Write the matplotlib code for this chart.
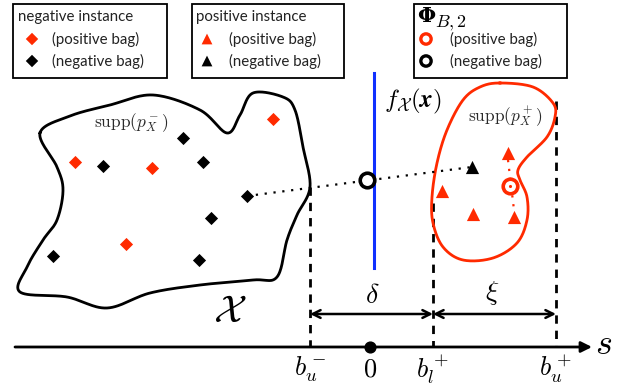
import numpy as np
import matplotlib
matplotlib.use("Agg")
import matplotlib.pyplot as plt
from matplotlib.patches import Rectangle

plt.rcParams['mathtext.fontset'] = 'cm'
plt.rcParams['font.family'] = ['Lato', 'DejaVu Sans']

RED = '#ff2a00'
BLUE = '#1030ff'

# ---- data (diagram coordinates) ----
neg_inst_pos_bag_x = [273, 75, 152, 126]
neg_inst_pos_bag_y = [119, 162, 168, 244]
neg_inst_neg_bag_x = [183, 103, 203, 247, 211, 53, 199]
neg_inst_neg_bag_y = [138, 166, 162, 196, 218, 256, 260]
pos_inst_pos_bag_x = [442, 473, 508, 514]
pos_inst_pos_bag_y = [191, 214, 153, 217]
pos_inst_neg_bag_x = [472]
pos_inst_neg_bag_y = [167]
phi_pos_bag = (510, 186)
phi_neg_bag = (367, 180)

neg_region_x = [40, 70, 110, 153, 200, 227, 240, 253, 283, 295, 303, 310, 297, 287, 277, 253, 200, 150, 107, 67, 20, 27, 43, 57, 63, 57]
neg_region_y = [133, 116, 105, 95, 110, 133, 115, 93, 97, 110, 147, 187, 215, 240, 277, 280, 285, 293, 308, 297, 292, 267, 240, 220, 190, 167]
pos_region_x = [500, 533, 553, 555, 547, 527, 518, 520, 527, 527, 517, 493, 463, 443, 433, 432, 437, 447, 463, 480]
pos_region_y = [83, 87, 103, 117, 137, 157, 170, 180, 197, 220, 243, 258, 260, 247, 223, 197, 163, 130, 100, 87]

tick_pos = [310, 370, 433, 556]
tick_labels = [r'$b_u^-$', r'$0$', r'$b_l^+$', r'$b_u^+$']
dash_top = [187, None, 203, 101]


def closed_spline(xs, ys, n=30):
    P = np.column_stack([xs, ys]).astype(float)
    m = len(P)
    out = []
    for i in range(m):
        p0, p1, p2, p3 = P[(i - 1) % m], P[i], P[(i + 1) % m], P[(i + 2) % m]
        t = np.linspace(0, 1, n, endpoint=False)[:, None]
        seg = 0.5 * ((2 * p1) + (-p0 + p2) * t + (2 * p0 - 5 * p1 + 4 * p2 - p3) * t ** 2
                     + (-p0 + 3 * p1 - 3 * p2 + p3) * t ** 3)
        out.append(seg)
    out = np.vstack(out)
    out = np.vstack([out, out[:1]])
    return out[:, 0], out[:, 1]


fig = plt.figure(figsize=(6.28, 3.87), dpi=100)
ax = fig.add_axes([0, 0, 1, 1])
ax.set_xlim(0, 628)
ax.set_ylim(387, 0)
ax.axis('off')

# regions
sx, sy = closed_spline(neg_region_x, neg_region_y)
ax.plot(sx, sy, color='black', lw=2.0, zorder=2)
sx, sy = closed_spline(pos_region_x, pos_region_y)
ax.plot(sx, sy, color=RED, lw=2.0, zorder=2)

ax.text(131, 123, r'$\mathrm{supp}(p_X^-)$', fontsize=12.5, color='#2a2a2a', ha='center', va='center')
ax.text(505, 117, r'$\mathrm{supp}(p_X^+)$', fontsize=12.5, color='#2a2a2a', ha='center', va='center')

# blue classifier line
ax.plot([374, 374], [73, 268], color=BLUE, lw=2.2, zorder=2)
ax.text(384, 101, r'$f_{\mathcal{X}}(\boldsymbol{x})$', fontsize=18, ha='left', va='center')

# dotted lines
ax.plot([neg_inst_neg_bag_x[3], pos_inst_neg_bag_x[0]], [neg_inst_neg_bag_y[3], pos_inst_neg_bag_y[0]],
        color='black', lw=1.6, ls=(0, (1, 3)), zorder=3)
ax.plot([pos_inst_pos_bag_x[2], pos_inst_pos_bag_x[3]], [pos_inst_pos_bag_y[2] + 7, pos_inst_pos_bag_y[3] - 7],
        color=RED, lw=1.6, ls=(0, (1, 3)), zorder=3)

# points
ax.scatter(neg_inst_pos_bag_x, neg_inst_pos_bag_y, marker='D', s=45, color=RED, lw=0, zorder=4)
ax.scatter(neg_inst_neg_bag_x, neg_inst_neg_bag_y, marker='D', s=45, color='black', lw=0, zorder=4)
ax.scatter(pos_inst_pos_bag_x, pos_inst_pos_bag_y, marker='^', s=90, color=RED, lw=0, zorder=4)
ax.scatter(pos_inst_neg_bag_x, pos_inst_neg_bag_y, marker='^', s=90, color='black', lw=0, zorder=4)
ax.scatter(*phi_pos_bag, marker='o', s=110, facecolor='white', edgecolor=RED, lw=2.6, zorder=5)
ax.scatter(*phi_pos_bag, marker='o', s=5, color=RED, lw=0, zorder=6)
ax.scatter(*phi_neg_bag, marker='o', s=110, facecolor='white', edgecolor='black', lw=2.6, zorder=5)

# horizontal axis
AXY = 347
ax.annotate('', xy=(592, AXY), xytext=(15, AXY),
            arrowprops=dict(arrowstyle='-|>', lw=2.0, color='black', mutation_scale=16,
                            shrinkA=0, shrinkB=0))
ax.text(604, AXY - 4, r'$s$', fontsize=26, ha='center', va='center')
ax.scatter([tick_pos[1]], [AXY], s=60, color='black', zorder=5)
for xp, lab, top in zip(tick_pos, tick_labels, dash_top):
    ax.text(xp, 369, lab, fontsize=19, ha='center', va='center')
    if top is not None:
        ax.plot([xp, xp], [top, AXY], color='black', lw=2.0, ls=(0, (3, 2.5)), zorder=1)

# double arrows
ARY = 314
for a, b in [(tick_pos[0], tick_pos[2]), (tick_pos[2], tick_pos[3])]:
    ax.annotate('', xy=(b, ARY), xytext=(a, ARY),
                arrowprops=dict(arrowstyle='<->', lw=1.8, color='black', mutation_scale=14,
                                shrinkA=0, shrinkB=0))
ax.text(372, 295, r'$\delta$', fontsize=20, ha='center', va='center')
ax.text(492, 293, r'$\xi$', fontsize=20, ha='center', va='center')
ax.text(230, 311, r'$\mathcal{X}$', fontsize=28, ha='center', va='center')

# legend boxes
boxes = [(13, 167), (192, 344), (414, 567)]
for x0, x1 in boxes:
    ax.add_patch(Rectangle((x0, 4), x1 - x0, 74, fill=False, lw=1.3, edgecolor='black', zorder=6))

FS = 10.8
FW = 'normal'
TC = '#222222'
ax.text(18, 17, 'negative instance', fontsize=FS, fontweight=FW, ha='left', va='center', color=TC)
ax.scatter([32, 32], [39, 61], marker='D', s=40, color=[RED, 'black'], lw=0)
ax.text(52, 39, '(positive bag)', fontsize=FS, fontweight=FW, ha='left', va='center', color=TC)
ax.text(52, 61, '(negative bag)', fontsize=FS, fontweight=FW, ha='left', va='center', color=TC)

ax.text(196, 17, 'positive instance', fontsize=FS, fontweight=FW, ha='left', va='center', color=TC)
ax.scatter([207, 207], [39, 61], marker='^', s=60, color=[RED, 'black'], lw=0)
ax.text(229, 39, '(positive bag)', fontsize=FS, fontweight=FW, ha='left', va='center', color=TC)
ax.text(229, 61, '(negative bag)', fontsize=FS, fontweight=FW, ha='left', va='center', color=TC)

ax.text(417, 16, 'Φ', family='DejaVu Serif', fontweight='bold', fontsize=15, ha='left', va='center')
ax.text(435, 23, r'$B,2$', fontsize=13, ha='left', va='center')
ax.scatter([426, 426], [39, 61], marker='o', s=55, facecolor='white', edgecolor=[RED, 'black'], lw=2.4)
ax.text(450, 39, '(positive bag)', fontsize=FS, fontweight=FW, ha='left', va='center', color=TC)
ax.text(450, 61, '(negative bag)', fontsize=FS, fontweight=FW, ha='left', va='center', color=TC)

fig.savefig('out.png', dpi=100)
